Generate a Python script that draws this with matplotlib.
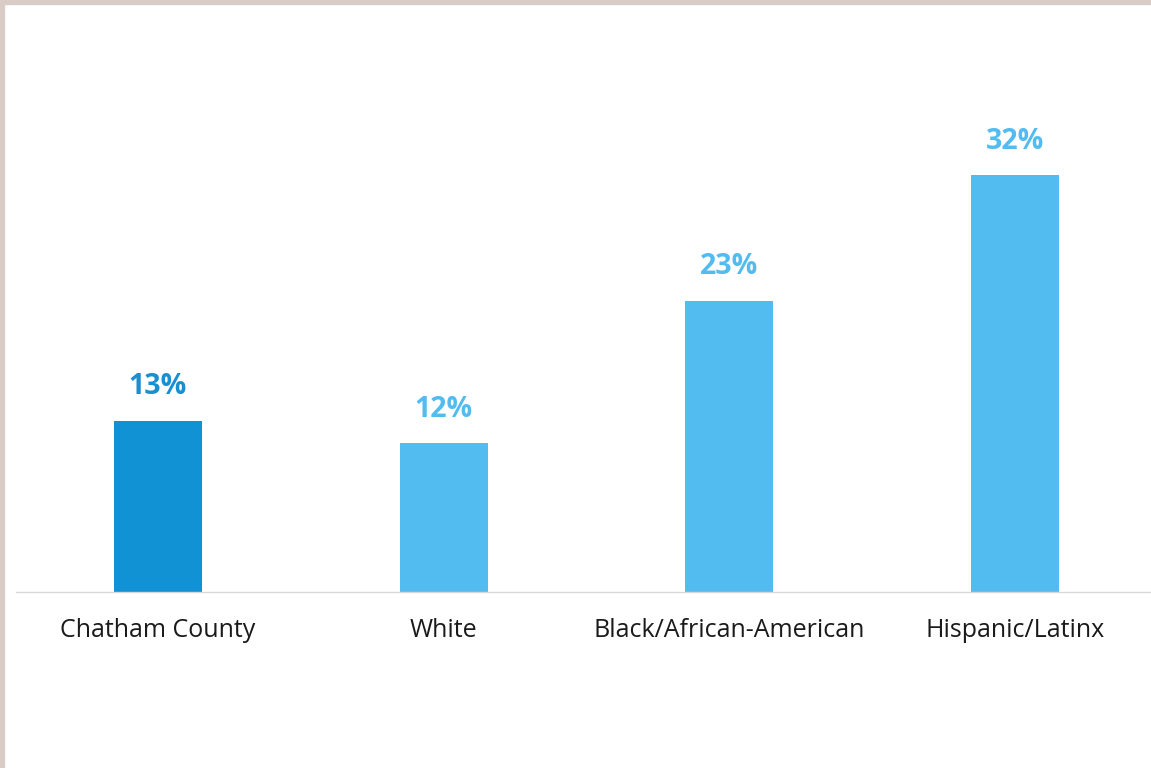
import matplotlib.pyplot as plt
from matplotlib.patches import Rectangle

categories = ['Chatham County', 'White', 'Black/African-American', 'Hispanic/Latinx']
values = [13.1, 11.4, 22.3, 31.9]
labels = ['13%', '12%', '23%', '32%']
bar_colors = ['#1192D4', '#52BCF0', '#52BCF0', '#52BCF0']
label_colors = ['#1A8FD0', '#52BCF0', '#52BCF0', '#52BCF0']

fig = plt.figure(figsize=(11.51, 7.68), dpi=100)
fig.patch.set_facecolor('white')

# thin beige frame at top and left
fig.patches.append(Rectangle((0, 0.995), 1, 0.005, transform=fig.transFigure,
                             color='#D9CCC6', zorder=0))
fig.patches.append(Rectangle((0, 0), 0.0035, 1, transform=fig.transFigure,
                             color='#D9CCC6', zorder=0))

ax = fig.add_axes([16 / 1151, 176 / 768, 1135 / 1151, 592 / 768])
x = list(range(len(categories)))
ax.bar(x, values, width=88 / 286, color=bar_colors, zorder=2)

for xi, v, lab, c in zip(x, values, labels, label_colors):
    ax.annotate(lab, (xi, v), xytext=(0, 14), textcoords='offset points',
                ha='center', va='bottom', fontsize=20.5, fontweight='bold',
                color=c, family='Open Sans')

ax.set_xlim(-142 / 286, 3 + 136 / 286)
ax.set_ylim(0, 592 / 13.07)

for s in ['top', 'right', 'left']:
    ax.spines[s].set_visible(False)
ax.spines['bottom'].set_color('#D9D9D9')
ax.spines['bottom'].set_linewidth(1)

ax.set_yticks([])
ax.set_xticks(x)
ax.set_xticklabels(categories, fontsize=18, family='Open Sans', color='#1A1A1A')
ax.tick_params(axis='x', length=0, pad=19)

fig.savefig('out.png', dpi=100)
